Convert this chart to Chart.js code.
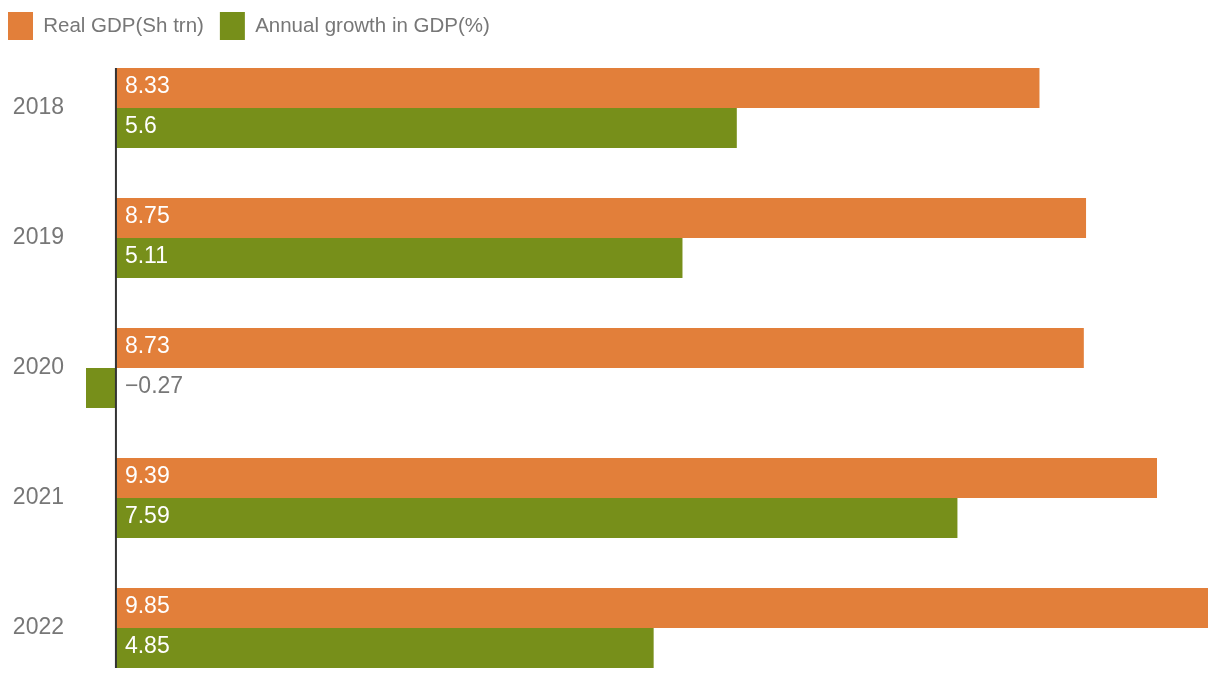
<!DOCTYPE html>
<html>
<head>
<meta charset="utf-8">
<script src="https://cdn.jsdelivr.net/npm/chart.js@4/dist/chart.umd.min.js"></script>
<style>
html,body{margin:0;padding:0;background:#fff;overflow:hidden;}
canvas{display:block;}
</style>
</head>
<body>
<canvas id="c" width="1220" height="700"></canvas>
<script>
const years = ['2018', '2019', '2020', '2021', '2022'];
const realGDP = [8.33, 8.75, 8.73, 9.39, 9.85];
const growth = [5.6, 5.11, -0.27, 7.59, 4.85];
const seriesNames = ['Real GDP(Sh trn)', 'Annual growth in GDP(%)'];
const seriesColors = ['#E27F3A', '#778F1A'];

const FONT = "'Liberation Sans', Arial, Helvetica, sans-serif";

const zeroLine = {
  id: 'zeroLine',
  afterDatasetsDraw(chart) {
    const ctx = chart.ctx;
    const xs = chart.scales.x;
    const x0 = xs.getPixelForValue(0);
    let top = Infinity, bottom = -Infinity;
    chart.data.datasets.forEach((ds, i) => {
      chart.getDatasetMeta(i).data.forEach(el => {
        const h = el.height;
        top = Math.min(top, el.y - h / 2);
        bottom = Math.max(bottom, el.y + h / 2);
      });
    });
    ctx.save();
    ctx.strokeStyle = '#333';
    ctx.lineWidth = 2;
    ctx.beginPath();
    ctx.moveTo(x0, top);
    ctx.lineTo(x0, bottom);
    ctx.stroke();
    ctx.font = '23px ' + FONT;
    ctx.textBaseline = 'middle';
    ctx.textAlign = 'left';
    chart.data.datasets.forEach((ds, i) => {
      chart.getDatasetMeta(i).data.forEach((el, j) => {
        const v = ds.data[j];
        ctx.fillStyle = v >= 0 ? '#ffffff' : '#777777';
        const txt = String(v).replace('-', '\u2212');
        ctx.fillText(txt, x0 + 9, el.y - 1);
      });
    });
    ctx.restore();
  }
};

new Chart(document.getElementById('c'), {
  type: 'bar',
  data: {
    labels: years,
    datasets: [
      { label: seriesNames[0], data: realGDP, backgroundColor: seriesColors[0], borderWidth: 0 },
      { label: seriesNames[1], data: growth, backgroundColor: seriesColors[1], borderWidth: 0 }
    ]
  },
  options: {
    indexAxis: 'y',
    responsive: false,
    animation: false,
    datasets: { bar: { categoryPercentage: 0.615, barPercentage: 1.0 } },
    layout: { padding: { left: -8, right: 12, top: -4, bottom: 7 } },
    scales: {
      x: {
        display: false,
        min: -0.27,
        max: 9.85
      },
      y: {
        grid: { display: false, drawTicks: false },
        border: { display: false },
        ticks: { color: '#777', font: { size: 23, family: FONT }, padding: 22 },
        afterFit(s) { s.width = 94; s.paddingTop = 0; s.paddingBottom = 0; }
      }
    },
    plugins: {
      legend: {
        position: 'top',
        align: 'start',
        maxHeight: 47,
        labels: {
          boxWidth: 25,
          boxHeight: 28,
          padding: 16,
          color: '#777',
          font: { size: 20.5, family: FONT }
        }
      },
      tooltip: { enabled: false }
    }
  },
  plugins: [zeroLine]
});
</script>
</body>
</html>
